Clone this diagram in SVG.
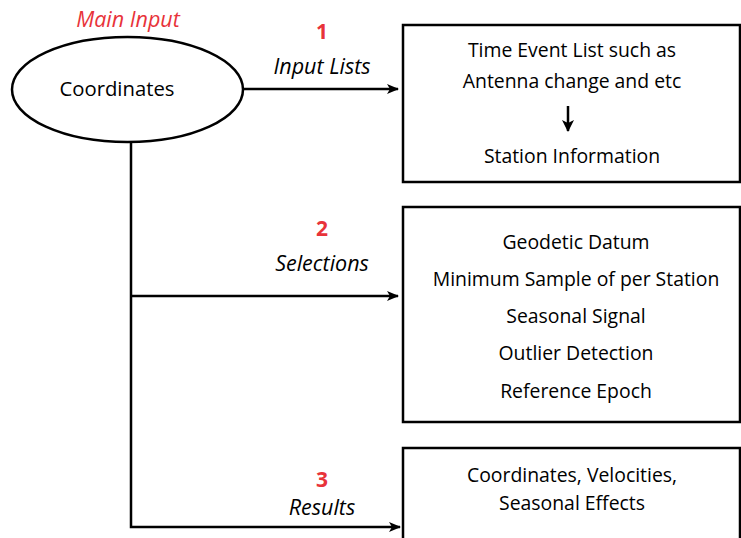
<svg xmlns="http://www.w3.org/2000/svg" width="741" height="538" viewBox="0 0 741 538">
<style>
.t{font-family:"Open Sans","Liberation Sans",sans-serif;font-size:19.4px;fill:#000;text-anchor:middle}
.i{font-style:italic;font-size:21.5px}
.red{fill:#e8333a}
.num{font-weight:bold;fill:#e8333a;font-size:21px}
.box{fill:#fff;stroke:#000;stroke-width:2.5}
.ln{fill:none;stroke:#000;stroke-width:2.5}
</style>
<defs>
<marker id="ah" viewBox="0 0 12 10" refX="11" refY="5" markerWidth="12" markerHeight="10" markerUnits="userSpaceOnUse" orient="auto">
<path d="M0,0 L12,5 L0,10 L3,5 Z" fill="#000"/>
</marker>
<marker id="ah2" viewBox="0 0 12 12" refX="11" refY="6" markerWidth="12" markerHeight="14" markerUnits="userSpaceOnUse" orient="auto">
<path d="M0,0 L12,6 L0,12 L3,6 Z" fill="#000"/>
</marker>
</defs>
<rect width="741" height="538" fill="#fff"/>
<g id="connectors">
<line class="ln" x1="243" y1="89" x2="398" y2="89" marker-end="url(#ah)"/>
<polyline class="ln" points="131,142 131,527 400,527" marker-end="url(#ah)"/>
<line class="ln" x1="131" y1="296" x2="398" y2="296" marker-end="url(#ah)"/>
<text class="t num" x="322" y="39">1</text>
<text class="t i" x="322" y="74">Input Lists</text>
<text class="t num" x="322" y="236">2</text>
<text class="t i" x="322" y="271">Selections</text>
<text class="t num" x="322" y="487">3</text>
<text class="t i" x="322" y="515">Results</text>
</g>
<g id="main-input">
<ellipse cx="127.5" cy="89.5" rx="115.5" ry="52.5" fill="#fff" stroke="#000" stroke-width="2.5"/>
<text class="t i red" x="128" y="27">Main Input</text>
<text class="t" x="117" y="96" style="font-size:20.3px">Coordinates</text>
</g>
<g id="input-lists">
<rect class="box" x="403" y="25" width="337" height="157"/>
<text class="t" x="572" y="57">Time Event List such as</text>
<text class="t" x="572" y="88">Antenna change and etc</text>
<line class="ln" x1="568" y1="106" x2="568" y2="131" stroke-width="2.5" marker-end="url(#ah2)"/>
<text class="t" x="572" y="163">Station Information</text>
</g>
<g id="selections">
<rect class="box" x="403" y="207" width="337" height="215"/>
<text class="t" x="576" y="249">Geodetic Datum</text>
<text class="t" x="576" y="286">Minimum Sample of per Station</text>
<text class="t" x="576" y="323">Seasonal Signal</text>
<text class="t" x="576" y="360">Outlier Detection</text>
<text class="t" x="576" y="398">Reference Epoch</text>
</g>
<g id="results">
<rect class="box" x="403" y="448" width="337" height="100"/>
<text class="t" x="572" y="482">Coordinates, Velocities,</text>
<text class="t" x="572" y="510">Seasonal Effects</text>
</g>
</svg>
